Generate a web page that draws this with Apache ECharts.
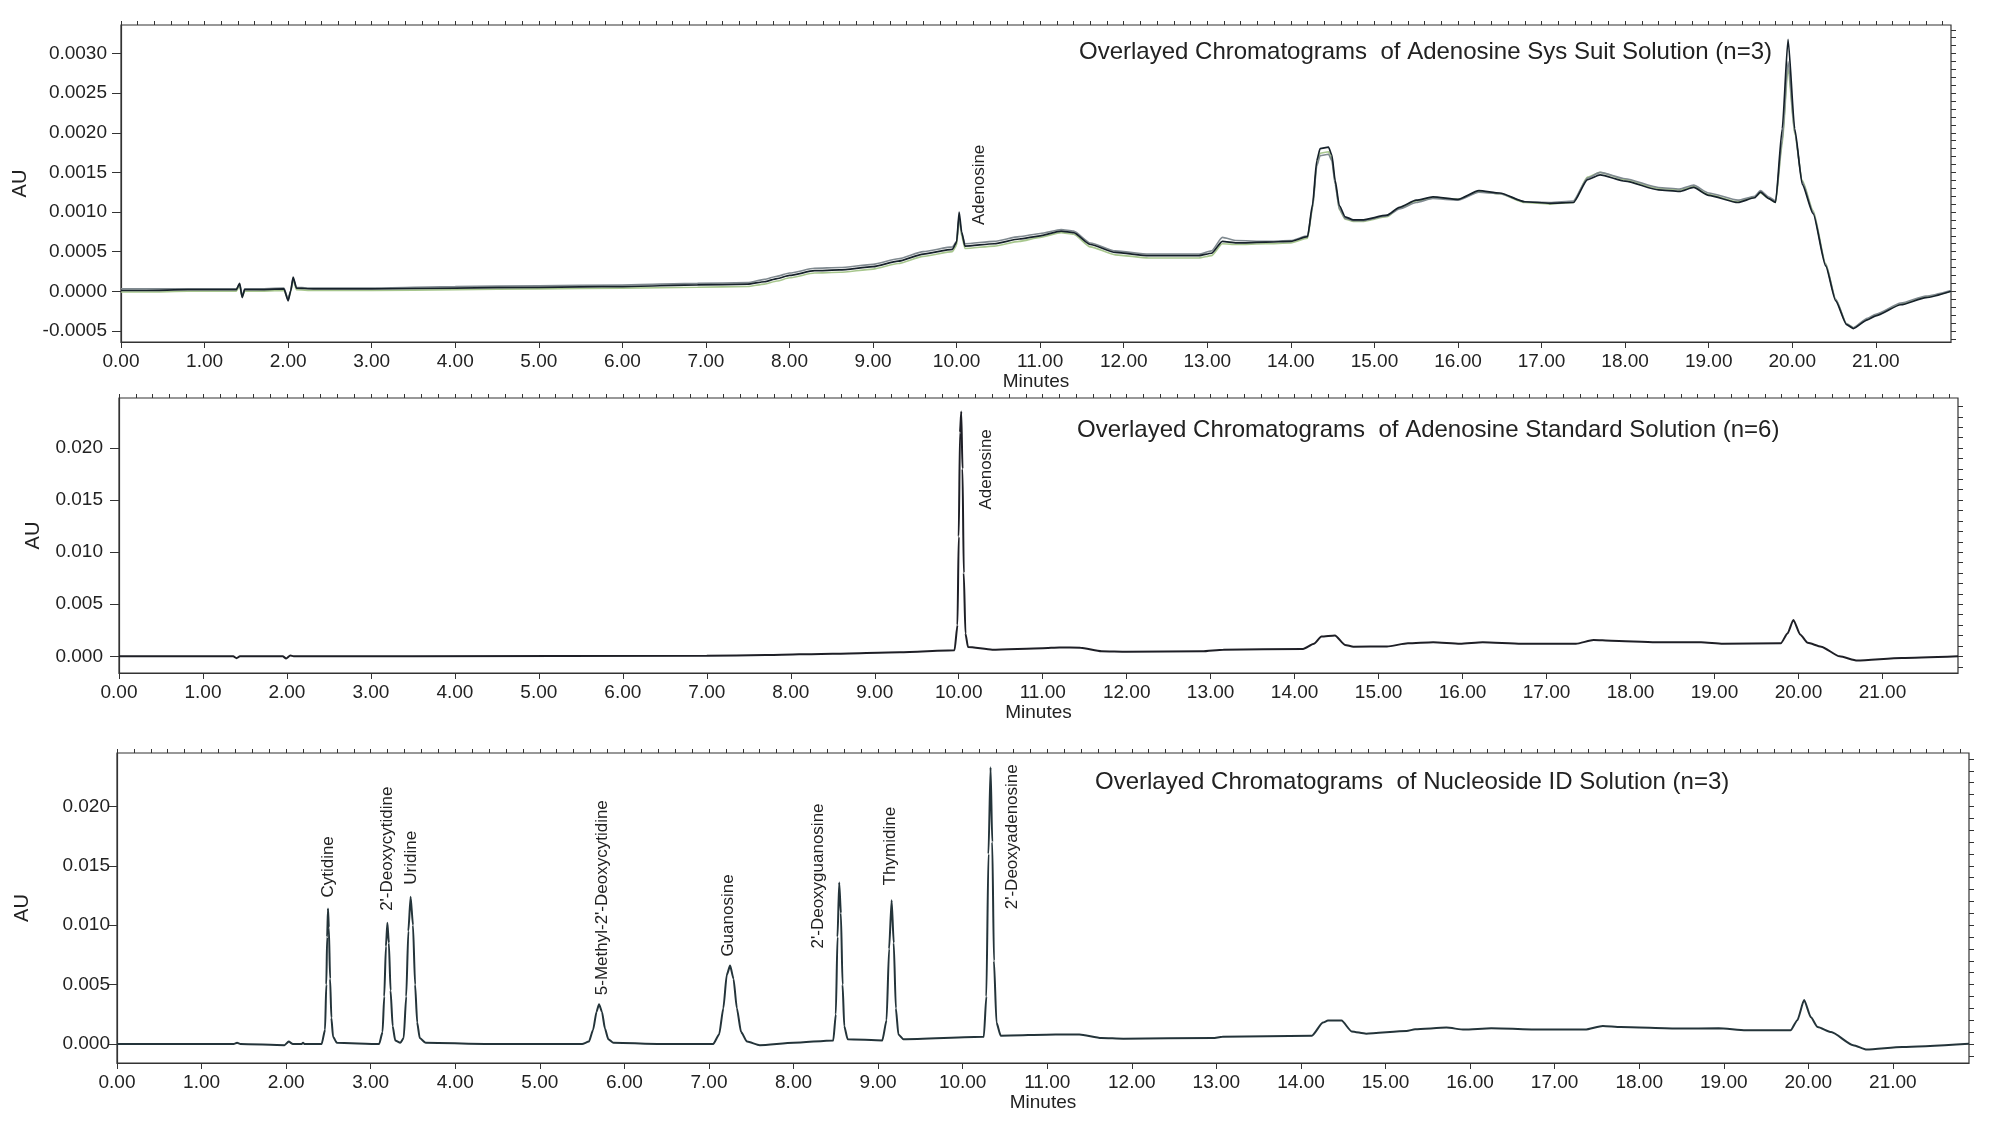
<!DOCTYPE html>
<html>
<head>
<meta charset="utf-8">
<title>Overlayed Chromatograms</title>
<script src="https://cdn.jsdelivr.net/npm/echarts@6/dist/echarts.min.js"></script>
<style>
  html, body { margin: 0; padding: 0; background: #fff; }
  #chart { width: 2000px; height: 1140px; }
</style>
</head>
<body>
<div id="chart"></div>
<script>
// ---- values ----
const minuteTicks = [0, 1, 2, 3, 4, 5, 6, 7, 8, 9, 10, 11, 12, 13, 14, 15, 16, 17, 18, 19, 20, 21]
const sysTicks = [-0.0005, 0, 0.0005, 0.001, 0.0015, 0.002, 0.0025, 0.003]
const auTicks = [0, 0.005, 0.01, 0.015, 0.02]

const titles = [
  'Overlayed Chromatograms  of Adenosine Sys Suit Solution (n=3)',
  'Overlayed Chromatograms  of Adenosine Standard Solution (n=6)',
  'Overlayed Chromatograms  of Nucleoside ID Solution (n=3)'
]

// panel 1: system suitability, 3 injections
const sysTime = [
  0, 0.3, 0.8, 1.2, 1.38, 1.42, 1.45, 1.48, 1.6, 1.95,
  2.0, 2.03, 2.06, 2.1, 2.3, 3.0, 4.0, 5.0, 6.0, 6.9,
  7.5, 7.7, 7.85, 8.0, 8.3, 8.6, 9.0, 9.3, 9.6, 9.95,
  10.0, 10.03, 10.06, 10.1, 10.45, 10.75, 11.0, 11.25, 11.4, 11.6,
  11.9, 12.3, 12.9, 13.05, 13.18, 13.35, 13.7, 14.0, 14.2, 14.26,
  14.31, 14.35, 14.45, 14.49, 14.53, 14.58, 14.65, 14.75, 14.85, 15.15,
  15.3, 15.5, 15.7, 16.0, 16.25, 16.5, 16.8, 17.1, 17.38, 17.55,
  17.7, 18.0, 18.4, 18.65, 18.82, 19.0, 19.35, 19.55, 19.62, 19.72,
  19.8, 19.88, 19.95, 20.03, 20.12, 20.25, 20.4, 20.52, 20.65, 20.73,
  20.9, 21.0, 21.3, 21.6, 21.9
]
const sysRun1 = [
  0.00001, 0.00001, 0.00002, 0.00002, 0.00002, 0.00010, -0.00008, 0.00002, 0.00002, 0.00003,
  -0.00012, 0.00000, 0.00018, 0.00004, 0.00003, 0.00003, 0.00004, 0.00005, 0.00006, 0.00008,
  0.00009, 0.00012, 0.00016, 0.00020, 0.00026, 0.00027, 0.00031, 0.00038, 0.00047, 0.00053,
  0.00062, 0.00100, 0.00075, 0.00057, 0.00060, 0.00066, 0.00070, 0.00076, 0.00074, 0.00059,
  0.00049, 0.00045, 0.00045, 0.00048, 0.00063, 0.00061, 0.00062, 0.00063, 0.00069, 0.00110,
  0.00165, 0.00180, 0.00182, 0.00172, 0.00140, 0.00108, 0.00094, 0.00090, 0.00090, 0.00096,
  0.00106, 0.00115, 0.00119, 0.00116, 0.00127, 0.00124, 0.00113, 0.00111, 0.00112, 0.00141,
  0.00147, 0.00139, 0.00128, 0.00126, 0.00131, 0.00121, 0.00112, 0.00118, 0.00125, 0.00117,
  0.00112, 0.00205, 0.00318, 0.00205, 0.00135, 0.00098, 0.00032, -0.00012, -0.00042, -0.00047,
  -0.00036, -0.00031, -0.00017, -0.00008, 0.00000
]
const sysRun2 = [
  0.00003, 0.00003, 0.00003, 0.00003, 0.00003, 0.00009, -0.00006, 0.00003, 0.00003, 0.00004,
  -0.00010, 0.00001, 0.00016, 0.00005, 0.00004, 0.00004, 0.00006, 0.00007, 0.00008, 0.00010,
  0.00011, 0.00015, 0.00019, 0.00023, 0.00029, 0.00030, 0.00034, 0.00041, 0.00050, 0.00056,
  0.00063, 0.00094, 0.00073, 0.00060, 0.00063, 0.00069, 0.00073, 0.00078, 0.00076, 0.00061,
  0.00051, 0.00047, 0.00047, 0.00051, 0.00068, 0.00064, 0.00063, 0.00064, 0.00070, 0.00106,
  0.00158, 0.00171, 0.00173, 0.00165, 0.00135, 0.00104, 0.00092, 0.00089, 0.00089, 0.00095,
  0.00104, 0.00112, 0.00117, 0.00115, 0.00125, 0.00123, 0.00113, 0.00112, 0.00114, 0.00143,
  0.00150, 0.00142, 0.00131, 0.00129, 0.00134, 0.00124, 0.00115, 0.00120, 0.00127, 0.00119,
  0.00114, 0.00190, 0.00290, 0.00200, 0.00138, 0.00100, 0.00034, -0.00010, -0.00041, -0.00046,
  -0.00034, -0.00029, -0.00015, -0.00006, 0.00001
]
const sysRun3 = [
  -0.00001, -0.00001, 0.00000, 0.00000, 0.00000, 0.00007, -0.00007, 0.00000, 0.00000, 0.00001,
  -0.00010, -0.00001, 0.00014, 0.00002, 0.00001, 0.00001, 0.00002, 0.00003, 0.00004, 0.00005,
  0.00006, 0.00009, 0.00013, 0.00017, 0.00023, 0.00024, 0.00028, 0.00035, 0.00044, 0.00050,
  0.00058, 0.00092, 0.00070, 0.00054, 0.00057, 0.00063, 0.00068, 0.00074, 0.00072, 0.00056,
  0.00046, 0.00042, 0.00042, 0.00045, 0.00060, 0.00059, 0.00060, 0.00061, 0.00067, 0.00105,
  0.00160, 0.00174, 0.00176, 0.00167, 0.00137, 0.00103, 0.00091, 0.00088, 0.00088, 0.00094,
  0.00105, 0.00114, 0.00118, 0.00116, 0.00126, 0.00123, 0.00112, 0.00110, 0.00112, 0.00144,
  0.00150, 0.00141, 0.00130, 0.00128, 0.00132, 0.00122, 0.00113, 0.00119, 0.00124, 0.00117,
  0.00112, 0.00185, 0.00282, 0.00198, 0.00140, 0.00102, 0.00035, -0.00010, -0.00041, -0.00046,
  -0.00035, -0.00030, -0.00016, -0.00007, 0.00000
]
const sysPeakNames = ['Adenosine']
const sysPeakTimes = [10.03]

// panel 2: adenosine standard (6 injections, overlapping)
const stdTime = [
  0, 1.36, 1.40, 1.44, 1.95, 1.99, 2.04, 2.08, 3.5, 7.0,
  7.7, 8.5, 9.3, 9.95, 9.985, 10.0, 10.015, 10.03, 10.045, 10.06,
  10.08, 10.11, 10.4, 11.0, 11.2, 11.45, 11.7, 12.0, 12.9, 13.15,
  14.1, 14.23, 14.32, 14.48, 14.6, 14.7, 15.1, 15.35, 15.65, 15.97,
  16.24, 16.7, 17.35, 17.56, 17.77, 18.3, 18.84, 19.1, 19.79, 19.87,
  19.94, 20.02, 20.11, 20.27, 20.49, 20.7, 21.23, 21.9
]
const stdAU = [
  0.0000, 0.0000, -0.00018, 0.00000, 0.0000, -0.0002, 0.00008, 0.0000, 0.00002, 0.00005,
  0.00012, 0.00026, 0.00040, 0.00058, 0.0030, 0.0115, 0.0215, 0.0235, 0.0180, 0.0080,
  0.0022, 0.0009, 0.00064, 0.00078, 0.00085, 0.00083, 0.00050, 0.00045, 0.00048, 0.00064,
  0.00070, 0.00120, 0.00190, 0.00200, 0.00110, 0.00093, 0.00095, 0.00125, 0.00135, 0.00120,
  0.00135, 0.00120, 0.00120, 0.00157, 0.00150, 0.00135, 0.00135, 0.00120, 0.00125, 0.00220,
  0.00350, 0.00210, 0.00130, 0.00093, 0.00000, -0.00040, -0.00016, 0.00000
]
const stdPeakNames = ['Adenosine']
const stdPeakTimes = [10.03]

// panel 3: nucleoside identification mix
const nucTime = [
  0, 1.38, 1.42, 1.46, 1.98, 2.03, 2.08, 2.18, 2.2, 2.22,
  2.42, 2.46, 2.475, 2.485, 2.495, 2.505, 2.52, 2.535, 2.555, 2.6,
  3.1, 3.14, 3.16, 3.18, 3.197, 3.215, 3.235, 3.26, 3.29, 3.35,
  3.39, 3.42, 3.445, 3.472, 3.5, 3.525, 3.55, 3.58, 3.65, 4.5,
  5.5, 5.58, 5.63, 5.67, 5.70, 5.735, 5.77, 5.81, 5.87, 6.5,
  7.05, 7.12, 7.17, 7.21, 7.25, 7.29, 7.33, 7.38, 7.45, 7.6,
  8.0, 8.47, 8.50, 8.52, 8.54, 8.56, 8.58, 8.60, 8.64, 9.05,
  9.10, 9.13, 9.16, 9.185, 9.21, 9.24, 9.3, 10.25, 10.28, 10.305,
  10.33, 10.35, 10.37, 10.40, 10.45, 11.1, 11.38, 11.64, 11.9, 12.96,
  13.07, 14.13, 14.26, 14.32, 14.48, 14.6, 14.77, 15.25, 15.35, 15.72,
  15.93, 16.25, 16.88, 17.36, 17.57, 17.78, 18.47, 18.94, 19.26, 19.79,
  19.87, 19.95, 20.03, 20.11, 20.27, 20.53, 20.69, 21.11, 21.9
]
const nucAU = [
  0.0000, 0.0000, 0.0001, 0.0000, -0.0001, 0.0002, 0.0000, 0.0000, 0.0001, 0.0000,
  0.0000, 0.0012, 0.0050, 0.0090, 0.0114, 0.0098, 0.0055, 0.0022, 0.0006, 0.0001,
  0.0000, 0.0010, 0.0040, 0.0082, 0.0102, 0.0085, 0.0045, 0.0015, 0.0003, 0.0001,
  0.0005, 0.0040, 0.0095, 0.0124, 0.0100, 0.0050, 0.0018, 0.0005, 0.0001, 0.0000,
  0.0000, 0.0002, 0.0012, 0.0027, 0.00335, 0.0027, 0.0013, 0.0004, 0.0001, 0.0000,
  0.0000, 0.0008, 0.0030, 0.0058, 0.0066, 0.0055, 0.0030, 0.0010, 0.0002, -0.0001,
  0.0001, 0.0003, 0.0025, 0.0090, 0.0136, 0.0110, 0.0050, 0.0015, 0.0004, 0.0003,
  0.0020, 0.0080, 0.0121, 0.0085, 0.0030, 0.0008, 0.0004, 0.0006, 0.0040, 0.0160,
  0.0233, 0.0170, 0.0070, 0.0018, 0.0007, 0.0008, 0.0008, 0.0005, 0.00045, 0.0005,
  0.0006, 0.0007, 0.0018, 0.00197, 0.00197, 0.00106, 0.00087, 0.0011, 0.00124, 0.00138,
  0.00121, 0.00132, 0.00121, 0.00121, 0.00152, 0.00143, 0.0013, 0.00132, 0.00115, 0.00115,
  0.0020, 0.0037, 0.00225, 0.00143, 0.0010, -0.0001, -0.00047, -0.00025, 0.00003
]
const nucPeakNames = [
  'Cytidine', "2'-Deoxycytidine", 'Uridine', "5-Methyl-2'-Deoxycytidine",
  'Guanosine', "2'-Deoxyguanosine", 'Thymidine', "2'-Deoxyadenosine"
]
const nucPeakTimes = [2.495, 3.197, 3.472, 5.70, 7.25, 8.54, 9.16, 10.33]

// ---- layout / style ----
const FONT = '"Liberation Sans", Arial, sans-serif'
const INK = '#222'
const AXIS = '#333'

// screen nudge [dx, dy] in px from each peak apex to the lower end of its label
const sysLabelNudge = [[20, 13]]
const stdLabelNudge = [[25, 98]]
const nucLabelNudge = [[0, -11], [0, -12], [1, -12], [3, -9], [-2, -9], [-21, 66], [-1, -15], [22, 142]]

function zip(t, v) {
  return t.map((x, i) => [x, v[i]])
}

function steps(from, to, step) {
  const out = []
  for (let v = from; v <= to + step / 2; v += step) out.push(Math.round(v * 1e6) / 1e6)
  return out
}

function apex(t, v, rt) {
  let best = -Infinity
  t.forEach((x, i) => { if (Math.abs(x - rt) < 0.06 && v[i] > best) best = v[i] })
  return best
}

function peakMarks(t, v, names, times, nudge) {
  return {
    symbol: 'circle',
    symbolSize: 1,
    itemStyle: { color: 'rgba(0,0,0,0)' },
    silent: true,
    label: {
      show: true, position: 'inside', rotate: 90, align: 'left', verticalAlign: 'middle',
      color: INK, fontSize: 17, fontFamily: FONT
    },
    data: names.map((n, i) => ({
      name: n,
      coord: [times[i], apex(t, v, times[i])],
      // label offset lives in the rotated text frame
      label: { formatter: n, offset: [-nudge[i][1], nudge[i][0]] }
    }))
  }
}

const panels = [
  { grid: { left: 121, top: 25, width: 1830, height: 317 }, yMin: -0.00064, yMax: 0.00336,
    ticks: sysTicks, minor: steps(-0.0006, 0.0033, 0.0001), dec: 4, labelMargin: 14, nameGap: 91,
    title: { left: 1079, top: 40 } },
  { grid: { left: 119, top: 398, width: 1839, height: 275 }, yMin: -0.0016, yMax: 0.0248,
    ticks: auTicks, minor: steps(-0.001, 0.024, 0.001), dec: 3, labelMargin: 16, nameGap: 76,
    title: { left: 1077, top: 418 } },
  { grid: { left: 117, top: 753, width: 1852, height: 310 }, yMin: -0.0016, yMax: 0.0245,
    ticks: auTicks, minor: steps(-0.001, 0.024, 0.001), dec: 3, labelMargin: 7, nameGap: 85,
    title: { left: 1095, top: 770 } }
]

const minorMinutes = steps(0, 21.8, 0.2)
const tickLine = { color: AXIS, width: 1 }

const grids = []
const xAxes = []
const yAxes = []
const titleList = []

panels.forEach((p, i) => {
  grids.push(Object.assign({ show: true, borderColor: AXIS, borderWidth: 1.2, backgroundColor: '#fff' }, p.grid))
  titleList.push({
    text: titles[i], left: p.title.left, top: p.title.top, padding: 0,
    textStyle: { fontSize: 24, fontWeight: 'normal', color: INK, fontFamily: FONT }
  })
  xAxes.push({
    type: 'value', gridIndex: i, min: 0, max: 21.9,
    name: 'Minutes', nameLocation: 'middle', nameGap: 28,
    nameTextStyle: { fontSize: 19, color: INK, fontFamily: FONT },
    axisLine: { show: true, onZero: false, lineStyle: { color: AXIS, width: 1.2 } },
    axisTick: { show: true, length: 6, customValues: minuteTicks, lineStyle: tickLine },
    axisLabel: { customValues: minuteTicks, formatter: v => v.toFixed(2), fontSize: 19, color: INK, fontFamily: FONT, margin: 10 },
    splitLine: { show: false }
  })
  xAxes.push({
    type: 'value', gridIndex: i, min: 0, max: 21.9,
    axisLine: { show: false, onZero: false },
    axisTick: { show: true, length: 4, customValues: minorMinutes, lineStyle: tickLine },
    axisLabel: { show: false },
    splitLine: { show: false }
  })
  yAxes.push({
    type: 'value', gridIndex: i, min: p.yMin, max: p.yMax,
    name: 'AU', nameLocation: 'middle', nameGap: p.nameGap,
    nameTextStyle: { fontSize: 20, color: INK, fontFamily: FONT },
    axisLine: { show: true, onZero: false, lineStyle: { color: AXIS, width: 1.2 } },
    axisTick: { show: true, length: 9, customValues: p.ticks, lineStyle: tickLine },
    axisLabel: { customValues: p.ticks, formatter: v => v.toFixed(p.dec), fontSize: 19, color: INK, fontFamily: FONT, margin: p.labelMargin },
    splitLine: { show: false }
  })
  yAxes.push({
    type: 'value', gridIndex: i, min: p.yMin, max: p.yMax,
    axisLine: { show: false, onZero: false },
    axisTick: { show: true, length: 5, customValues: p.minor, lineStyle: tickLine },
    axisLabel: { show: false },
    splitLine: { show: false }
  })
})

function trace(panel, data, color, width, z, marks) {
  const s = {
    type: 'line', xAxisIndex: panel * 2, yAxisIndex: panel * 2, data: data,
    symbol: 'none', smooth: 0.2, smoothMonotone: 'x',
    lineStyle: { color: color, width: width }, z: z, silent: true
  }
  if (marks) s.markPoint = marks
  return s
}

const series = [
  trace(0, zip(sysTime, sysRun3), '#a8c78e', 1.6, 2),
  trace(0, zip(sysTime, sysRun2), '#808a90', 1.6, 3),
  trace(0, zip(sysTime, sysRun1), '#16212a', 1.7, 4,
    peakMarks(sysTime, sysRun1, sysPeakNames, sysPeakTimes, sysLabelNudge)),
  trace(1, zip(stdTime, stdAU), '#1e1f26', 2, 4,
    peakMarks(stdTime, stdAU, stdPeakNames, stdPeakTimes, stdLabelNudge)),
  trace(2, zip(nucTime, nucAU), '#24343a', 2, 4,
    peakMarks(nucTime, nucAU, nucPeakNames, nucPeakTimes, nucLabelNudge))
]

const chart = echarts.init(document.getElementById('chart'))
chart.setOption({
  backgroundColor: '#fff',
  animation: false,
  title: titleList,
  grid: grids,
  xAxis: xAxes,
  yAxis: yAxes,
  series: series
})
</script>
</body>
</html>
